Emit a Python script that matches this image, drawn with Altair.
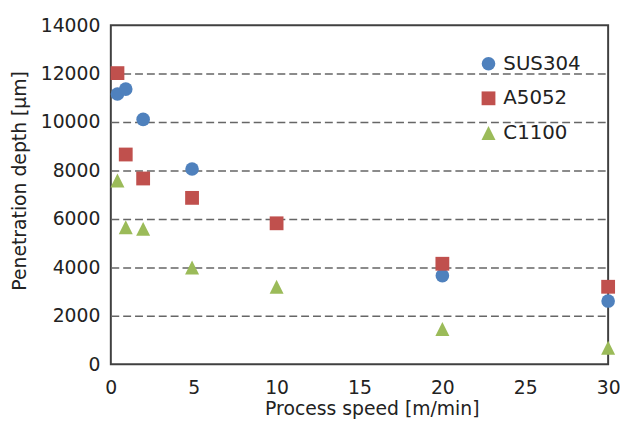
import altair as alt
import pandas as pd

speed = [0.4, 0.9, 1.95, 4.9, 10, 20, 30]
sus304 = [11160, 11360, 10110, 8060, None, 3660, 2610]
a5052 = [12020, 8660, 7670, 6870, 5820, 4150, 3200]
c1100 = [7590, 5660, 5590, 4000, 3200, 1460, 680]
series = ["SUS304", "A5052", "C1100"]
colors = ["#4F81BD", "#C0504D", "#9BBB59"]
shapes = ["circle", "square", "M0,-1L1,1L-1,1Z"]
sizes = [190, 200, 185]
y_ticks = [0, 2000, 4000, 6000, 8000, 10000, 12000, 14000]
x_ticks = [0, 5, 10, 15, 20, 25, 30]

rows = []
for name, vals in zip(series, [sus304, a5052, c1100]):
    for s, v in zip(speed, vals):
        if v is not None:
            rows.append({"speed": s, "depth": v, "material": name})
df = pd.DataFrame(rows)

FONT = "DejaVu Sans"
TXT = "#222222"

chart = alt.Chart(df).mark_point(filled=True, opacity=1).encode(
    x=alt.X(
        "speed:Q",
        scale=alt.Scale(domain=[0, 30], nice=False),
        axis=alt.Axis(
            values=x_ticks, title="Process speed [m/min]", grid=False, ticks=False,
            domain=False, labelPadding=15, labelFontSize=19, titleFontSize=19,
            titleFontWeight="normal", titleX=264, titleY=51, titleBaseline="alphabetic",
            labelColor=TXT, titleColor=TXT, labelFont=FONT, titleFont=FONT, format="d",
            labelFlush=False,
        ),
    ),
    y=alt.Y(
        "depth:Q",
        scale=alt.Scale(domain=[0, 14000], nice=False),
        axis=alt.Axis(
            values=y_ticks, title="Penetration depth [µm]", grid=True, ticks=False,
            domain=False, labelPadding=11, labelFontSize=19, titleFontSize=19,
            titleFontWeight="normal", titleX=-92, titleY=157, titleBaseline="middle",
            labelColor=TXT, titleColor=TXT, labelFont=FONT, titleFont=FONT, format="d",
            labelFlush=False,
            gridDash=[8, 4], gridColor="#666666", gridWidth=1.5,
            gridOpacity={"condition": {"test": "datum.value === 0 || datum.value === 14000", "value": 0}, "value": 1},
        ),
    ),
    color=alt.Color(
        "material:N",
        scale=alt.Scale(domain=series, range=colors),
        legend=alt.Legend(title=None),
    ),
    shape=alt.Shape(
        "material:N",
        scale=alt.Scale(domain=series, range=shapes),
        legend=alt.Legend(title=None),
    ),
    size=alt.Size(
        "material:N",
        scale=alt.Scale(domain=series, range=sizes),
        legend=alt.Legend(title=None),
    ),
).properties(
    width=503,
    height=343,
    padding={"left": 104, "top": 15, "right": 12, "bottom": 54},
    autosize=alt.AutoSizeParams(type="none"),
).configure_view(
    stroke="#404040", strokeWidth=2
).configure_legend(
    orient="none", legendX=372, legendY=29, labelFontSize=20, labelFont=FONT,
    labelColor=TXT, rowPadding=15, labelOffset=5, padding=0,
    symbolStrokeWidth=0, symbolOpacity=1,
)

chart.save("out.html", embed_options={"renderer": "svg", "actions": False})
